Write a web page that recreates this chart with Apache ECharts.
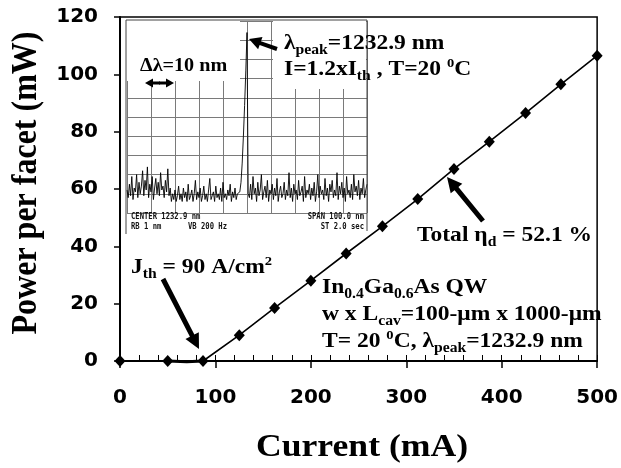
<!DOCTYPE html>
<html lang="en">
<head>
    <meta charset="UTF-8">
    <title>Power per facet vs current</title>
    <script src="https://cdn.jsdelivr.net/npm/echarts@6/dist/echarts.min.js"></script>
    <style>
        html, body { margin: 0; padding: 0; background: #fff; }
        #main { width: 621px; height: 468px; }
    </style>
</head>
<body>
<div id="main"></div>
<script>
    // L-I curve
    var currentMA = [0, 50, 87, 125, 162, 200, 237, 275, 312, 350, 387, 425, 462, 500];
    var powerMW = [0, 0, 0, 9, 18.5, 28, 37.5, 47, 56.5, 67, 76.5, 86.5, 96.5, 106.5];
    // small dip of the curve just below threshold
    var subCurrent = [50, 70, 87];
    var subPower = [0, -0.3, 0];

    // inset spectrum, divisions above the bottom grid line, 0.5 nm per sample
    var specStartNm = -50;
    var specStepNm = 0.5;
    var specLeft = [1.2, 0.8, 1.5, 0.9, 1.9, 0.7, 1.3, 1.1, 2.0, 0.8, 1.6, 1.0, 1.4, 2.2, 0.9, 1.7, 1.2, 2.4, 0.8, 1.5,
        1.1, 1.9, 0.7, 1.3, 1.8, 1.0, 1.6, 0.9, 2.1, 1.2, 1.4, 0.8, 1.7, 1.1, 2.3, 0.9, 1.3];
    var specMid = [0.6, 1.0, 0.7, 1.2, 0.6, 0.9, 1.4, 0.7, 1.0, 0.6, 1.3, 0.8, 1.1, 0.6, 1.5, 0.7, 0.9, 1.2, 0.6, 1.0,
        1.7, 0.7, 1.1, 0.8, 1.3, 0.6, 0.9, 1.4, 0.7, 1.0, 0.6, 1.2, 1.8, 0.7, 0.9, 1.1, 0.6, 1.4, 0.8, 1.0,
        0.7, 1.3, 0.6, 1.6, 0.8, 1.0, 0.7, 1.2, 0.9, 1.5, 0.6, 1.1, 0.8, 1.3, 0.7, 1.0, 0.9];
    var specPeak = [1.1, 1.6, 2.6, 4.0, 5.6, 7.4, 9.4, 1.0];
    var specRight = [0.8, 1.5, 0.7, 1.9, 1.0, 1.3, 0.6, 1.6, 0.9, 1.2, 2.0, 0.7, 1.1, 1.4, 0.8, 1.7, 0.6, 1.2, 1.0, 1.5,
        0.7, 1.3, 0.9, 1.8, 0.6, 1.1, 1.4, 0.8, 1.0, 1.6, 0.7, 1.2, 0.9, 2.1, 0.8, 1.3, 0.6, 1.5, 1.0, 1.2,
        0.7, 1.7, 0.9, 1.1, 1.4, 0.6, 1.9, 0.8, 1.2, 1.0, 1.5, 0.7, 1.3, 0.9, 1.6, 0.6, 1.1, 2.0, 0.8, 1.4,
        1.0, 1.2, 0.7, 1.8, 0.9, 1.3, 0.6, 1.5, 1.1, 1.7, 0.8, 1.2, 0.9, 2.1, 0.7, 1.4, 1.0, 1.6, 0.8, 1.3,
        0.6, 1.9, 1.0, 1.2, 0.8, 1.5, 0.7, 2.0, 1.1, 1.4, 0.9, 1.7, 0.7, 1.3, 1.0, 1.8, 0.8, 1.2, 1.5];

    var liData = currentMA.map(function (c, i) { return [c, powerMW[i]]; });
    var subData = subCurrent.map(function (c, i) { return [c, subPower[i]]; });
    var spectrum = specLeft.concat(specMid, specPeak, specRight);
    var specData = spectrum.map(function (v, i) { return [specStartNm + i * specStepNm, v]; });

    var SERIF = "'Liberation Serif', 'Times New Roman', serif";
    var rich = {
        n: {fontSize: 21, lineHeight: 26, fontWeight: 'bold', fontFamily: SERIF, verticalAlign: 'middle'},
        m: {fontSize: 18, lineHeight: 22, fontWeight: 'bold', fontFamily: SERIF, verticalAlign: 'middle'},
        s: {fontSize: 14, lineHeight: 14, fontWeight: 'bold', fontFamily: SERIF, verticalAlign: 'bottom'},
        p: {fontSize: 13, lineHeight: 13, fontWeight: 'bold', fontFamily: SERIF, verticalAlign: 'top'}
    };

    function note(x, y, text) {
        return {
            type: 'text', x: x, y: y, scaleX: 1.12, z: 10,
            style: {text: text, rich: rich, fill: '#000', fontFamily: SERIF, fontWeight: 'bold',
                fontSize: 21, align: 'left', verticalAlign: 'middle'}
        };
    }

    function osaText(x, y, text, align) {
        return {
            type: 'text', x: x, y: y, scaleX: 0.8, z: 10,
            style: {text: text, fill: '#111', fontFamily: "'DejaVu Sans Mono', monospace", fontWeight: 'bold',
                fontSize: 9, align: align || 'left', verticalAlign: 'middle'}
        };
    }

    // filled arrow: shaft width sw, head width hw, head length hl
    function arrow(x1, y1, x2, y2, sw, hw, hl) {
        var dx = x2 - x1, dy = y2 - y1, L = Math.sqrt(dx * dx + dy * dy);
        var ux = dx / L, uy = dy / L, nx = -uy, ny = ux;
        var bx = x2 - ux * hl, by = y2 - uy * hl;
        return {
            type: 'polygon', z: 10,
            shape: {points: [
                [x1 + nx * sw / 2, y1 + ny * sw / 2], [bx + nx * sw / 2, by + ny * sw / 2],
                [bx + nx * hw / 2, by + ny * hw / 2], [x2, y2],
                [bx - nx * hw / 2, by - ny * hw / 2], [bx - nx * sw / 2, by - ny * sw / 2],
                [x1 - nx * sw / 2, y1 - ny * sw / 2]
            ]},
            style: {fill: '#000'}
        };
    }

    var tickLabel = {color: '#000', fontFamily: "'DejaVu Sans', Arial, sans-serif", fontWeight: 'bold', fontSize: 20};

    var myChart = echarts.init(document.getElementById('main'));
    var option = {
        animation: false,
        backgroundColor: '#fff',
        grid: [
            {left: 120, top: 17, width: 480, height: 344, show: true, borderColor: '#000', borderWidth: 1.5},
            {left: 127, top: 21, width: 240, height: 192, show: false}
        ],
        xAxis: [{
            gridIndex: 0, type: 'value', min: 0, max: 500, interval: 100, position: 'bottom',
            axisLine: {show: true, lineStyle: {color: '#000', width: 2}},
            axisTick: {show: true, length: 7, lineStyle: {color: '#000', width: 1.5}},
            axisLabel: Object.assign({margin: 27}, tickLabel),
            splitLine: {show: false}
        }, {
            // minor ticks pointing up into the plot
            gridIndex: 0, type: 'value', min: 0, max: 500, interval: 20, position: 'bottom',
            axisLine: {show: false},
            axisTick: {show: true, inside: true, length: 6, lineStyle: {color: '#000', width: 1}},
            axisLabel: {show: false},
            splitLine: {show: false}
        }, {
            gridIndex: 1, type: 'value', min: -50, max: 50, interval: 10,
            axisLine: {show: false}, axisTick: {show: false}, axisLabel: {show: false},
            splitLine: {show: true, lineStyle: {color: '#7a7a7a', width: 1}}
        }],
        yAxis: [{
            gridIndex: 0, type: 'value', min: 0, max: 120, interval: 20,
            axisLine: {show: true, lineStyle: {color: '#000', width: 2}},
            axisTick: {show: true, length: 6, lineStyle: {color: '#000', width: 1.5}},
            axisLabel: Object.assign({margin: 22}, tickLabel),
            splitLine: {show: false}
        }, {
            gridIndex: 1, type: 'value', min: 0, max: 10, interval: 1,
            axisLine: {show: false}, axisTick: {show: false}, axisLabel: {show: false},
            splitLine: {show: true, lineStyle: {color: '#7a7a7a', width: 1}}
        }],
        series: [{
            name: 'L-I',
            type: 'line',
            xAxisIndex: 0, yAxisIndex: 0,
            data: liData,
            symbol: 'diamond',
            symbolSize: [11, 12],
            itemStyle: {color: '#000'},
            lineStyle: {color: '#000', width: 1.6},
            z: 4
        }, {
            name: 'sub-threshold',
            type: 'line',
            xAxisIndex: 0, yAxisIndex: 0,
            data: subData,
            clip: false,
            showSymbol: false,
            lineStyle: {color: '#000', width: 3},
            z: 3
        }, {
            name: 'spectrum',
            type: 'line',
            xAxisIndex: 2, yAxisIndex: 1,
            data: specData,
            showSymbol: false,
            lineStyle: {color: '#000', width: 0.9},
            z: 3
        }],
        graphic: [
            // inset frame
            {type: 'polyline', z: 6, shape: {points: [[126, 234], [126, 20], [367, 20], [367, 231]]},
                style: {stroke: '#444', lineWidth: 1, fill: null}},
            // white boxes behind the inset labels
            {type: 'rect', z: 5, shape: {x: 127, y: 21, width: 113, height: 60}, style: {fill: '#fff'}},
            {type: 'rect', z: 5, shape: {x: 273, y: 21, width: 93, height: 68}, style: {fill: '#fff'}},

            osaText(131, 217, 'CENTER 1232.9 nm'),
            osaText(131, 227, 'RB 1 nm'),
            osaText(188, 227, 'VB 200 Hz'),
            osaText(364, 217, 'SPAN 100.0 nm', 'right'),
            osaText(364, 227, 'ST 2.0 sec', 'right'),

            note(284, 44, '{n|λ}{s|peak}{n|=1232.9 nm}'),
            note(284, 70, '{n|I=1.2xI}{s|th}{n| , T=20 }{p|0}{n|C}'),
            note(140, 66, '{m|Δλ=10 nm}'),
            note(131, 268, '{n|J}{s|th}{n| = 90 A/cm}{p|2}'),
            note(417, 236, '{n|Total η}{s|d}{n| = 52.1 %}'),
            note(322, 288, '{n|In}{s|0.4}{n|Ga}{s|0.6}{n|As QW}'),
            note(322, 315, '{n|w x L}{s|cav}{n|=100-μm x 1000-μm}'),
            note(322, 342, '{n|T= 20 }{p|0}{n|C, λ}{s|peak}{n|=1232.9 nm}'),

            arrow(277, 49, 249, 39, 4, 13, 12),
            arrow(163, 279, 199, 349, 5, 15, 15),
            arrow(483, 221, 447, 177, 5, 15, 15),
            arrow(160, 83, 145, 83, 3, 9, 8),
            arrow(159, 83, 174, 83, 3, 9, 8),

            // axis titles
            {type: 'text', x: 362, y: 448, scaleX: 1.15, z: 10,
                style: {text: 'Current (mA)', fill: '#000', fontFamily: SERIF, fontWeight: 'bold', fontSize: 31,
                    align: 'center', verticalAlign: 'middle'}},
            {type: 'text', x: 27, y: 183, rotation: Math.PI / 2, scaleY: 1.1, z: 10,
                style: {text: 'Power per facet (mW)', fill: '#000', fontFamily: SERIF, fontWeight: 'bold', fontSize: 32,
                    align: 'center', verticalAlign: 'middle'}}
        ]
    };
    myChart.setOption(option);

    window.addEventListener('resize', function () {
        myChart.resize();
    });
</script>
</body>
</html>
